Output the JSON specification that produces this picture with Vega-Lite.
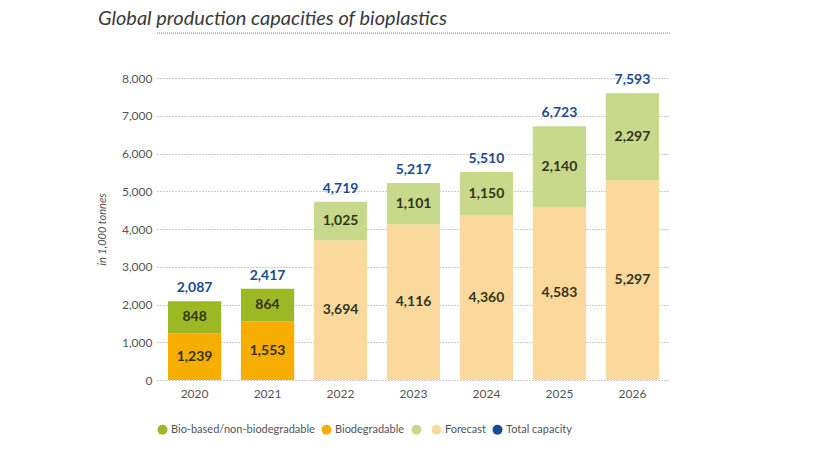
{
  "$schema": "https://vega.github.io/schema/vega-lite/v6.json",
  "autosize": "none",
  "width": 513,
  "height": 302,
  "padding": {"left": 157, "top": 78, "right": 150, "bottom": 70},
  "background": "white",
  "config": {
    "font": "Lato",
    "view": {"stroke": null},
    "axisY": {
      "ticks": false, "domain": false, "labelPadding": 5, "labelFontSize": 12, "labelColor": "#555555", "labelFont": "Lato",
      "gridDash": [1, 2], "gridColor": "#999999", "gridWidth": 1,
      "titleFontStyle": "italic", "titleFontWeight": "normal", "titleFontSize": 11, "titleColor": "#555555", "titlePadding": 14, "titleFont": "Lato"
    },
    "axisX": {"labelAngle": 0, "ticks": false, "domain": false, "labelPadding": 8, "labelFontSize": 12, "labelColor": "#555555", "labelFont": "Lato"}
  },
  "title": {
    "text": "Global production capacities of bioplastics",
    "anchor": "start",
    "frame": "group",
    "dx": -59,
    "offset": 4,
    "font": "Lato",
    "fontStyle": "italic",
    "fontWeight": "normal",
    "fontSize": 20,
    "color": "#3a3a3a"
  },
  "datasets": {
    "segments": [
      {"year": "2020", "series": "Biodegradable", "value": 1239, "order": 1},
      {"year": "2020", "series": "Bio-based/non-biodegradable", "value": 848, "order": 2},
      {"year": "2021", "series": "Biodegradable", "value": 1553, "order": 1},
      {"year": "2021", "series": "Bio-based/non-biodegradable", "value": 864, "order": 2},
      {"year": "2022", "series": "Forecast (biodegradable)", "value": 3694, "order": 1},
      {"year": "2022", "series": "Forecast (bio-based)", "value": 1025, "order": 2},
      {"year": "2023", "series": "Forecast (biodegradable)", "value": 4116, "order": 1},
      {"year": "2023", "series": "Forecast (bio-based)", "value": 1101, "order": 2},
      {"year": "2024", "series": "Forecast (biodegradable)", "value": 4360, "order": 1},
      {"year": "2024", "series": "Forecast (bio-based)", "value": 1150, "order": 2},
      {"year": "2025", "series": "Forecast (biodegradable)", "value": 4583, "order": 1},
      {"year": "2025", "series": "Forecast (bio-based)", "value": 2140, "order": 2},
      {"year": "2026", "series": "Forecast (biodegradable)", "value": 5297, "order": 1},
      {"year": "2026", "series": "Forecast (bio-based)", "value": 2297, "order": 2}
    ],
    "totals": [
      {"year": "2020", "total": 2087},
      {"year": "2021", "total": 2417},
      {"year": "2022", "total": 4719},
      {"year": "2023", "total": 5217},
      {"year": "2024", "total": 5510},
      {"year": "2025", "total": 6723},
      {"year": "2026", "total": 7593}
    ],
    "titleline": [{"y": 9190}]
  },
  "layer": [
    {
      "data": {"name": "segments"},
      "transform": [
        {"stack": "value", "groupby": ["year"], "sort": [{"field": "order", "order": "ascending"}], "as": ["v0", "v1"]},
        {"calculate": "(datum.v0 + datum.v1) / 2", "as": "mid"}
      ],
      "layer": [
        {
          "mark": {"type": "bar"},
          "encoding": {
            "x": {
              "field": "year", "type": "ordinal",
              "scale": {"paddingInner": 0.27, "paddingOuter": 0.15},
              "axis": {"title": null}
            },
            "y": {
              "field": "v0", "type": "quantitative",
              "scale": {"domain": [0, 8000], "nice": false},
              "axis": {"title": "in 1,000 tonnes", "values": [0, 1000, 2000, 3000, 4000, 5000, 6000, 7000, 8000], "format": ",.0f"}
            },
            "y2": {"field": "v1"},
            "color": {
              "field": "series", "type": "nominal",
              "scale": {
                "domain": ["Bio-based/non-biodegradable", "Biodegradable", "Forecast (bio-based)", "Forecast (biodegradable)", "Total capacity"],
                "range": ["#9cb824", "#f6ae00", "#c8d98b", "#fbd99c", "#1d4b8f"]
              },
              "legend": {
                "title": null,
                "orient": "bottom",
                "direction": "horizontal",
                "offset": 25,
                "symbolType": "circle",
                "symbolSize": 100,
                "symbolStrokeWidth": 0,
                "symbolOpacity": 1,
                "labelOffset": 3,
                "columnPadding": 6,
                "labelLimit": 400,
                "labelFontSize": 11,
                "labelColor": "#555555",
                "labelFont": "Lato",
                "labelExpr": "datum.label == 'Forecast (bio-based)' ? '' : datum.label == 'Forecast (biodegradable)' ? 'Forecast' : datum.label"
              }
            }
          }
        },
        {
          "mark": {"type": "text", "fontWeight": "bold", "fontSize": 14, "baseline": "middle", "align": "center", "color": "#33331a", "font": "Lato"},
          "encoding": {
            "x": {"field": "year", "type": "ordinal", "axis": {"title": null}},
            "y": {"field": "mid", "type": "quantitative", "axis": {"title": "in 1,000 tonnes", "values": [0, 1000, 2000, 3000, 4000, 5000, 6000, 7000, 8000], "format": ",.0f"}},
            "text": {"field": "value", "type": "quantitative", "format": ","}
          }
        }
      ]
    },
    {
      "data": {"name": "totals"},
      "mark": {"type": "text", "fontWeight": "bold", "fontSize": 14, "baseline": "middle", "align": "center", "dy": -13, "font": "Lato"},
      "encoding": {
        "x": {"field": "year", "type": "ordinal", "axis": {"title": null}},
        "y": {"field": "total", "type": "quantitative", "axis": {"title": "in 1,000 tonnes", "values": [0, 1000, 2000, 3000, 4000, 5000, 6000, 7000, 8000], "format": ",.0f"}},
        "text": {"field": "total", "type": "quantitative", "format": ","},
        "color": {"datum": "Total capacity"}
      }
    },
    {
      "data": {"name": "titleline"},
      "mark": {"type": "rule", "strokeDash": [1, 1], "color": "#777777", "strokeWidth": 1},
      "encoding": {
        "y": {"field": "y", "type": "quantitative", "axis": {"title": "in 1,000 tonnes", "values": [0, 1000, 2000, 3000, 4000, 5000, 6000, 7000, 8000], "format": ",.0f"}}
      }
    }
  ]
}
